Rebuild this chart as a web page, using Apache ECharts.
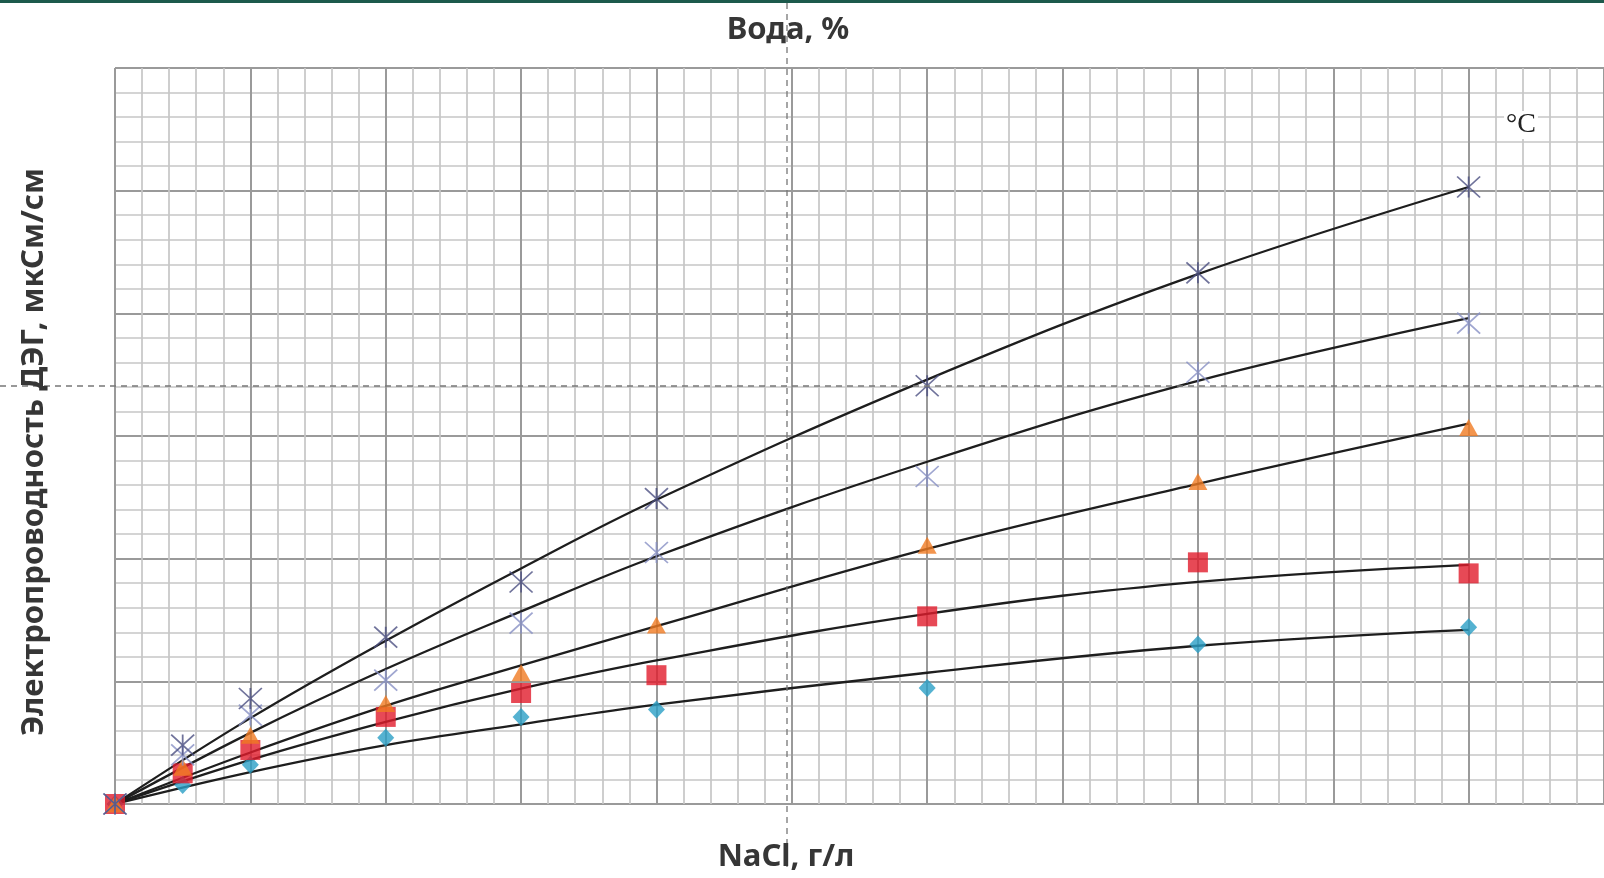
<!DOCTYPE html>
<html>
<head>
<meta charset="utf-8">
<script src="https://cdn.jsdelivr.net/npm/echarts@6/dist/echarts.min.js"></script>
<style>
html,body{margin:0;padding:0;background:#fff;}
#c{width:1604px;height:878px;}
</style>
</head>
<body>
<div id="c"></div>
<script>
// NaCl, g/l (x positions of measurements)
const nacl = [0, 0.5, 1, 2, 3, 4, 6, 8, 10];
// measured conductivity (arbitrary grid units, 10 per major cell)
const sDarkX  = [0, 4.8, 8.6, 13.6, 18.1, 24.9, 34.1, 43.3, 50.3];
const sLightX = [0, 4.0, 7.25, 10.1, 14.75, 20.5, 26.7, 35.2, 39.2];
const sTri    = [0, 3.0, 5.6, 8.2, 10.7, 14.6, 21.1, 26.3, 30.7];
const sSquare = [0, 2.5, 4.4, 7.1, 9.05, 10.5, 15.3, 19.7, 18.8];
const sDiam   = [0, 1.55, 3.2, 5.4, 7.1, 7.7, 9.45, 13.0, 14.4];

// trend curves
const fitX      = [0, 1, 2, 3, 4, 6, 8, 10];
const fDarkX    = [0, 7.0, 13.3, 19.2, 24.8, 34.6, 43.2, 50.3];
const fLightX   = [0, 5.8, 11.0, 15.7, 20.2, 27.9, 34.5, 39.6];
const fTri      = [0, 4.2, 8.0, 11.3, 14.5, 20.8, 26.1, 31.0];
const fSquare   = [0, 3.6, 6.7, 9.4, 11.7, 15.5, 18.1, 19.5];
const fDiam     = [0, 2.6, 4.8, 6.5, 8.1, 10.7, 12.9, 14.2];

const xTitle = 'NaCl, г/л';
const topTitle = 'Вода, %';
const yTitle = 'Электропроводность ДЭГ, мкСм/см';
const unitText = '°C';

const pair = (xs, ys) => xs.map((x, i) => [x, ys[i]]);
const starPath = 'path://M0,0L20,18M20,0L0,18M10,0L10,18';

const chart = echarts.init(document.getElementById('c'), null, {renderer: 'canvas'});

const fitLine = (ys) => ({
  type: 'line', data: pair(fitX, ys), smooth: 0.4, showSymbol: false, symbol: 'none',
  lineStyle: {color: '#1e1e1e', width: 2.3}, z: 3, silent: true
});
const pts = (ys, opts) => Object.assign({
  type: 'scatter', data: pair(nacl, ys), z: 4, silent: true
}, opts);

chart.setOption({
  animation: false,
  backgroundColor: '#fff',
  grid: {left: 115, top: 68, width: 1496, height: 736},
  xAxis: {
    type: 'value', min: 0, max: 11, interval: 1,
    axisLine: {show: false}, axisTick: {show: false}, axisLabel: {show: false},
    splitLine: {show: true, lineStyle: {color: '#9a9a9a', width: 2}},
    minorTick: {show: false, splitNumber: 5},
    minorSplitLine: {show: true, lineStyle: {color: '#c6c6c6', width: 1.7}}
  },
  yAxis: {
    type: 'value', min: 0, max: 60, interval: 10,
    axisLine: {show: false}, axisTick: {show: false}, axisLabel: {show: false},
    splitLine: {show: true, lineStyle: {color: '#9a9a9a', width: 2}},
    minorTick: {show: false, splitNumber: 5},
    minorSplitLine: {show: true, lineStyle: {color: '#c6c6c6', width: 1.7}}
  },
  series: [
    fitLine(fDarkX), fitLine(fLightX), fitLine(fTri), fitLine(fSquare), fitLine(fDiam),
    pts(sDiam,   {symbol: 'diamond', symbolSize: [17, 18], itemStyle: {color: '#2a9fc6'}}),
    pts(sSquare, {symbol: 'rect', symbolSize: 20, itemStyle: {color: '#e11c2c'}}),
    pts(sTri,    {symbol: 'triangle', symbolSize: [19, 17], itemStyle: {color: '#f07a22'}}),
    pts(sLightX, {symbol: starPath, symbolSize: [23, 21], itemStyle: {color: 'rgba(0,0,0,0)', borderColor: '#8790c4', borderWidth: 1.7}}),
    pts(sDarkX,  {symbol: starPath, symbolSize: [23, 21], itemStyle: {color: 'rgba(0,0,0,0)', borderColor: '#4c5082', borderWidth: 1.7}})
  ],
  graphic: [
    {type: 'rect', left: 0, top: 0, shape: {width: 1604, height: 3}, style: {fill: '#1d5a4c'}, z: 10},
    {type: 'line', shape: {x1: 787, y1: 3, x2: 787, y2: 870}, style: {stroke: '#777', lineWidth: 1.3, lineDash: [6, 5]}, z: 10},
    {type: 'line', shape: {x1: 0, y1: 386, x2: 1604, y2: 386}, style: {stroke: '#777', lineWidth: 1.3, lineDash: [6, 5]}, z: 10},
    {type: 'text', x: 788, y: 30, style: {text: topTitle, font: 'bold 31px "Noto Sans"', fill: '#363636', textAlign: 'center', textVerticalAlign: 'middle'}, z: 11},
    {type: 'text', x: 786, y: 857, style: {text: xTitle, font: 'bold 31px "Noto Sans"', fill: '#363636', textAlign: 'center', textVerticalAlign: 'middle'}, z: 11},
    {type: 'text', x: 34, y: 452, rotation: Math.PI / 2, style: {text: yTitle, font: 'bold 31px "Noto Sans"', fill: '#363636', textAlign: 'center', textVerticalAlign: 'middle'}, z: 11},
    {type: 'text', x: 1521, y: 125, style: {text: unitText, font: '28px "Liberation Serif"', fill: '#222', textAlign: 'center', textVerticalAlign: 'middle', backgroundColor: '#fff', padding: [0, 2]}, z: 11}
  ]
});
</script>
</body>
</html>
